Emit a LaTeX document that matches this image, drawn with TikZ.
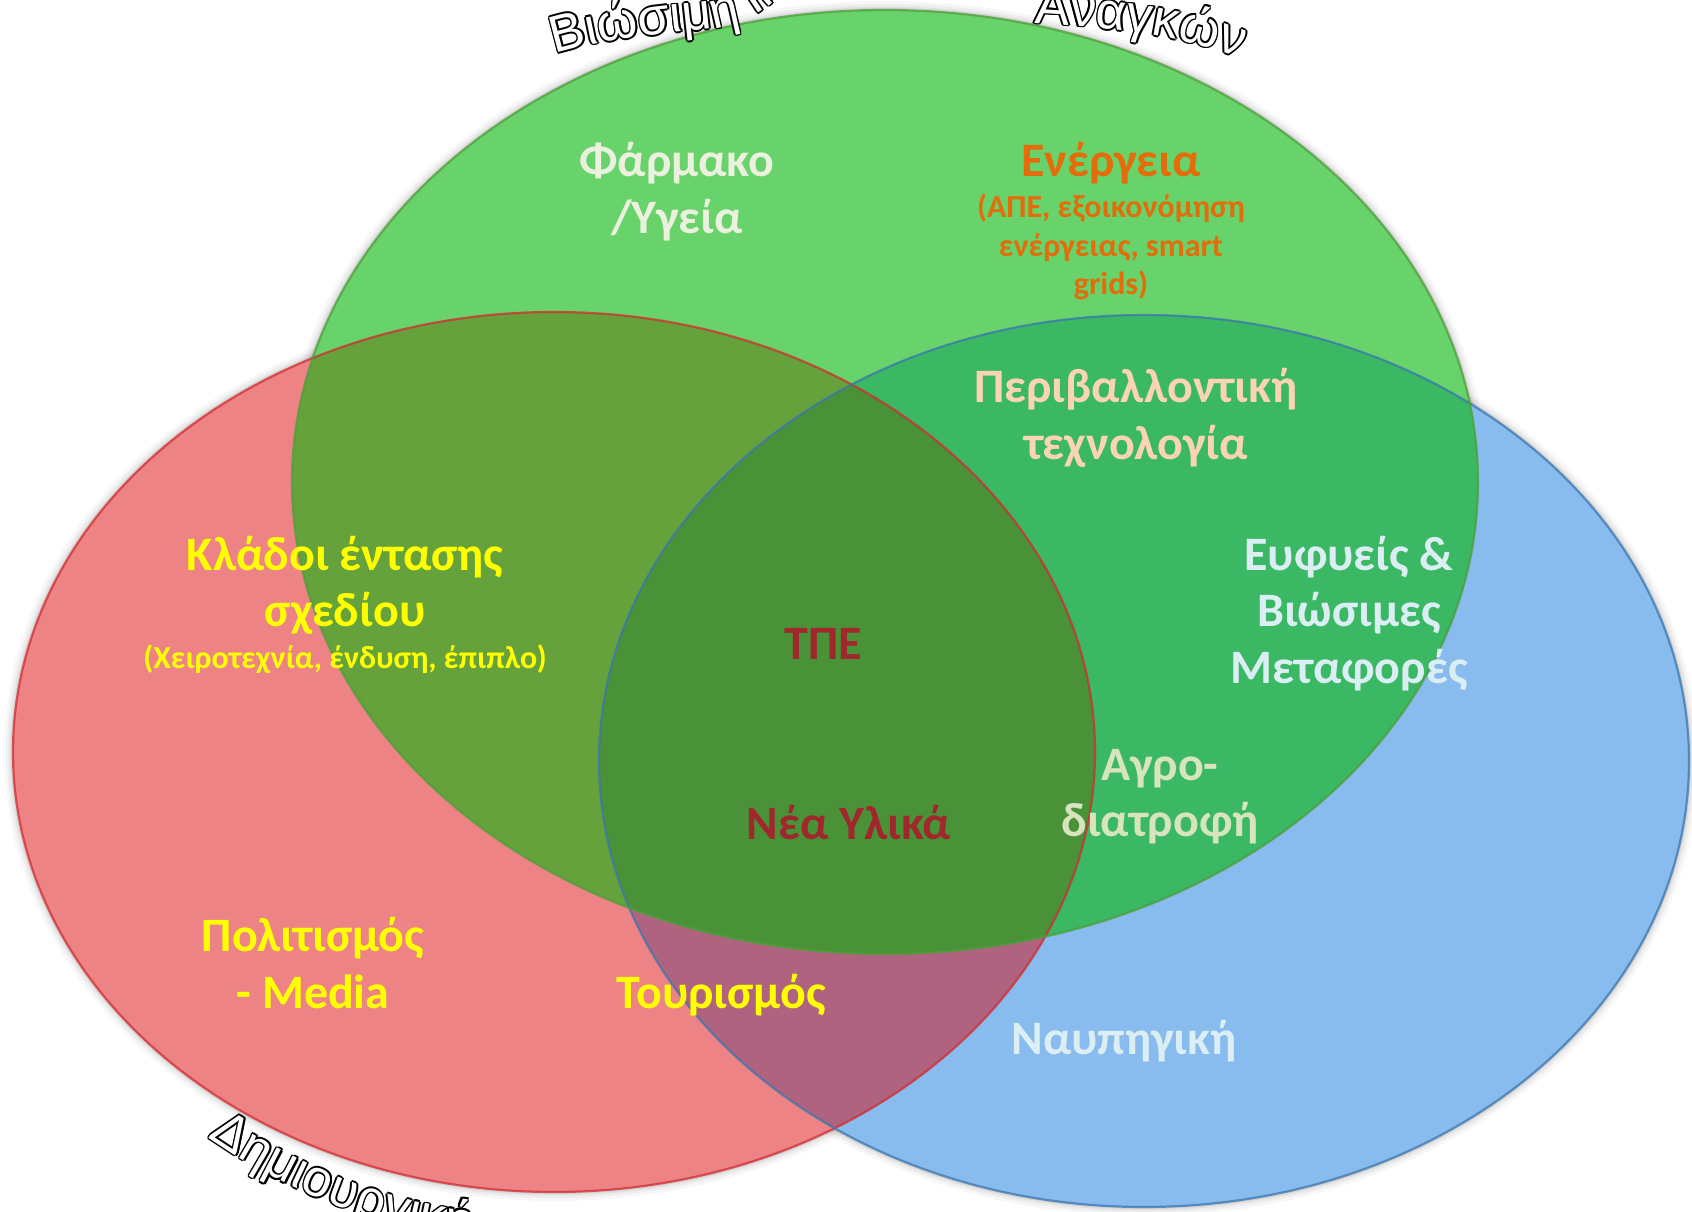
\documentclass[tikz,border=0pt]{standalone}
\usepackage{fontspec}
\setmainfont{Carlito}
\newfontfamily\arcfont{Liberation Sans}
\usetikzlibrary{decorations.text}
\definecolor{cRed}{HTML}{EE8385}
\definecolor{cBlue}{HTML}{88BCEE}
\definecolor{cGreen}{HTML}{68D36A}
\definecolor{cRG}{HTML}{66A23C}
\definecolor{cGB}{HTML}{3AB864}
\definecolor{cRB}{HTML}{B0637E}
\definecolor{cRGB}{HTML}{4A9238}
\definecolor{eRed}{HTML}{D42B30}
\definecolor{eBlue}{HTML}{3A76B0}
\definecolor{eGreen}{HTML}{4E9E3A}
\definecolor{tPale}{HTML}{EBF1DE}
\definecolor{tOrange}{HTML}{E46C0A}
\definecolor{tPeach}{HTML}{FBD4B4}
\definecolor{tYellow}{HTML}{FFFF00}
\definecolor{tDarkRed}{HTML}{A0282C}
\definecolor{tOlive}{HTML}{D7E4BD}
\definecolor{tIce}{HTML}{DBEEF3}
\newcommand\arcfmt{\arcfont\fontsize{52}{60}\selectfont}
\tikzset{
  lbl/.style={font=\bfseries\fontsize{48}{56}\selectfont, anchor=base, inner sep=0pt},
  sublbl/.style={font=\bfseries\fontsize{32}{38}\selectfont, anchor=base, inner sep=0pt},
  rim/.style={line width=2.2pt, opacity=0.75},
  toparcL/.style={decorate, decoration={text along path,
     text={|\arcfmt\color{#1}|Βιώσιμη Ικανοποίηση}}},
  toparcR/.style={decorate, decoration={text along path, text align=right,
     text={|\arcfmt\color{#1}|Αναγκών}}},
  botarc/.style={decorate, decoration={text along path,
     text={|\arcfmt\color{#1}|Δημιουργική}}}
}
\def\eG{(885,729) ellipse [x radius=593, y radius=472]}
\def\eR{(554,459) ellipse [x radius=541, y radius=440]}
\def\eB{(1144,450) ellipse [x radius=545, y radius=446]}
\def\pL{(555,1157) .. controls (610,1174) and (665,1177) .. (715,1183) .. controls (760,1189) and (780,1211) .. (830,1271) .. controls (860,1310) and (900,1330) .. (950,1340)}
\def\pR{(960,1241) .. controls (990,1215) and (1005,1190) .. (1030,1188) .. controls (1110,1184) and (1180,1176) .. (1240,1153)}
\def\pB{(208,74) arc[start angle=234.9, end angle=282, radius=590]}
\begin{document}
\begin{tikzpicture}[x=1pt,y=1pt]
\useasboundingbox (0,0) rectangle (1692,1211);
\clip (0,0) rectangle (1692,1211);
% soft shadows
\foreach \w/\o in {18/0.03,12/0.04,7/0.05,4/0.07} {
  \draw[line width=\w pt, black, opacity=\o] \eR;
  \draw[line width=\w pt, black, opacity=\o] \eB;
  \draw[line width=\w pt, black, opacity=\o] \eG;
}
% fills
\fill[cRed] \eR;
\fill[cBlue] \eB;
\fill[cGreen] \eG;
\begin{scope}
  \clip \eG;
  \fill[cGB] \eB;
\end{scope}
\begin{scope}
  \clip \eR;
  \fill[cRB] \eB;
  \fill[cRG] \eG;
  \clip \eG;
  \fill[cRGB] \eB;
\end{scope}
% rims
\draw[rim, eRed] \eR;
\draw[rim, eBlue] \eB;
\draw[rim, eGreen] \eG;
% labels
\node[lbl, text=tPale] (farm1) at (677,1034) {Φάρμακο};
\node[lbl, text=tPale] (farm2) at (677,977) {/Υγεία};
\node[lbl, text=tOrange] (en1) at (1111,1034) {Ενέργεια};
\node[sublbl, text=tOrange] (en2) at (1111,993) {(ΑΠΕ, εξοικονόμηση};
\node[sublbl, text=tOrange] (en3) at (1111,954) {ενέργειας, smart};
\node[sublbl, text=tOrange] (en4) at (1111,916) {grids)};
\node[lbl, text=tPeach] (per1) at (1136,808) {Περιβαλλοντική};
\node[lbl, text=tPeach] (per2) at (1136,751) {τεχνολογία};
\node[lbl, text=tYellow] (kl1) at (345,640) {Κλάδοι έντασης};
\node[lbl, text=tYellow] (kl2) at (345,584) {σχεδίου};
\node[sublbl, text=tYellow] (kl3) at (345,542) {(Χειροτεχνία, ένδυση, έπιπλο)};
\node[lbl, text=tDarkRed] (tpe) at (823,551) {ΤΠΕ};
\node[lbl, text=tDarkRed] (nea) at (849,371) {Νέα Υλικά};
\node[lbl, text=tOlive] (agr1) at (1160,430) {Αγρο-};
\node[lbl, text=tOlive] (agr2) at (1160,374) {διατροφή};
\node[lbl, text=tIce] (euf1) at (1349,640) {Ευφυείς \&};
\node[lbl, text=tIce] (euf2) at (1349,584) {Βιώσιμες};
\node[lbl, text=tIce] (euf3) at (1349,527) {Μεταφορές};
\node[lbl, text=tYellow] (pol1) at (313,259) {Πολιτισμός};
\node[lbl, text=tYellow] (pol2) at (313,203) {- Media};
\node[lbl, text=tYellow] (tour) at (721,203) {Τουρισμός};
\node[lbl, text=tIce] (nav) at (1124,157) {Ναυπηγική};
% arc titles (outlined text)
\foreach \dx/\dy in {1.7/0,-1.7/0,0/1.7,0/-1.7,1.2/1.2,-1.2/1.2,1.2/-1.2,-1.2/-1.2} {
  \path[toparcL=black, shift={(\dx,\dy)}] \pL;
  \path[toparcR=black, shift={(\dx,\dy)}] \pR;
  \path[botarc=black, shift={(\dx,\dy)}] \pB;
}
\path[toparcL=white] \pL;
\path[toparcR=white] \pR;
\path[botarc=white] \pB;
\end{tikzpicture}
\end{document}
